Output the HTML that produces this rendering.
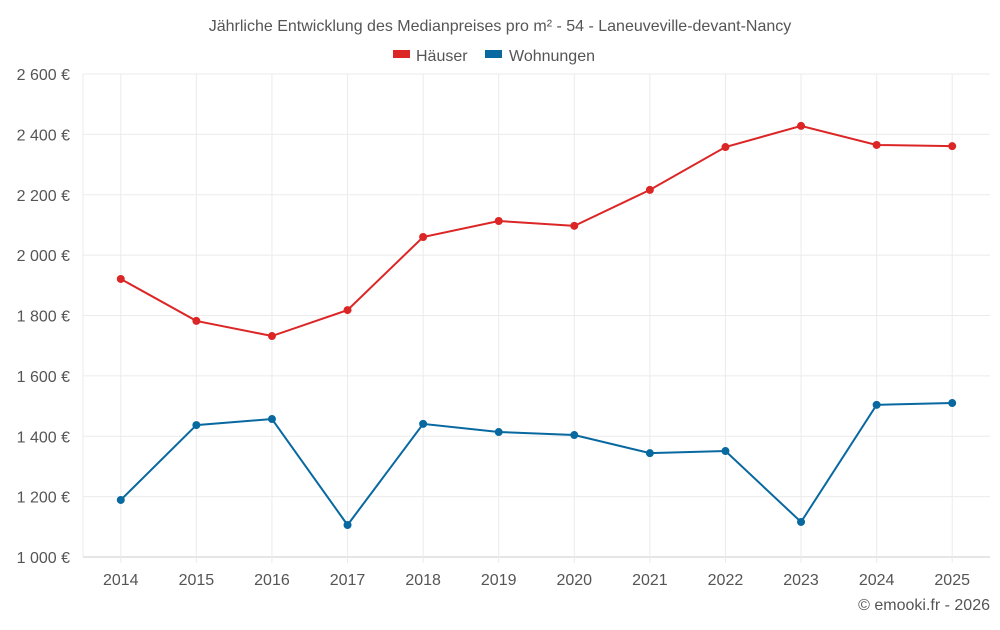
<!DOCTYPE html>
<html><head><meta charset="utf-8"><style>
body{margin:0;background:#fff;font-family:"Liberation Sans",Roboto,sans-serif}
svg text{font-family:"Liberation Sans",sans-serif;fill:#555}
</style></head><body>
<svg id="c" width="1000" height="625">
<text x="500" y="31" text-anchor="middle" font-size="16">Jährliche Entwicklung des Medianpreises pro m² - 54 - Laneuveville-devant-Nancy</text>
<g>
<g><rect x="393" y="50" width="17" height="8" fill="#dc2626"/><text x="416" y="61" font-size="16">Häuser</text></g>
<g><rect x="485" y="50" width="17" height="8" fill="#0868a0"/><text x="509" y="61" font-size="16">Wohnungen</text></g>
</g>
<g id="grid"></g>
<g id="axes"></g>
<g id="series"></g>
<text x="990" y="610" text-anchor="end" font-size="16">© emooki.fr - 2026</text>
</svg>
<script>
const years=["2014","2015","2016","2017","2018","2019","2020","2021","2022","2023","2024","2025"];
const haeuser=[1921,1782,1732,1818,2060,2113,2097,2216,2358,2428,2365,2361];
const wohnungen=[1189,1437,1457,1106,1441,1414,1404,1344,1351,1116,1504,1510];
const yTicks=[1000,1200,1400,1600,1800,2000,2200,2400,2600];
const yLabels=["1 000 €","1 200 €","1 400 €","1 600 €","1 800 €","2 000 €","2 200 €","2 400 €","2 600 €"];
const L=83,R=990,T=74,B=557,ymin=1000,ymax=2600;
const bw=(R-L)/years.length;
const x=i=>L+bw*(i+0.5);
const y=v=>B-(v-ymin)/(ymax-ymin)*(B-T);
const NS="http://www.w3.org/2000/svg";
function mk(tag,parent,attrs){const e=document.createElementNS(NS,tag);for(const k in attrs)e.setAttribute(k,attrs[k]);document.getElementById(parent).appendChild(e);return e;}
yTicks.forEach((t,i)=>{
 const g=mk("line","grid",{x1:L,x2:R,y1:y(t),y2:y(t),stroke:i==0?"#ccc":"#ebebeb"});
 
 
 const l=mk("text","axes",{x:70,y:y(t)+6,"text-anchor":"end","font-size":"16"});
 l.textContent=yLabels[i];
 
 
});
const lv=mk("line","grid",{x1:L,x2:L,y1:T,y2:B,stroke:"#ebebeb"});


years.forEach((yr,i)=>{
 const g=mk("line","grid",{x1:x(i),x2:x(i),y1:T,y2:B+6,stroke:"#ebebeb"});
 
 
 const l=mk("text","axes",{x:x(i),y:585,"text-anchor":"middle","font-size":"16"});
 l.textContent=yr;
 
 
});
function series(vals,color,name){
 const p=mk("polyline","series",{points:vals.map((v,i)=>x(i)+","+y(v)).join(" "),fill:"none",stroke:color,"stroke-width":2});
 
 
 vals.forEach((v,i)=>{
  const c=mk("circle","series",{cx:x(i),cy:y(v),r:4,fill:color});
  
  
 });
}
series(haeuser,"#dc2626","haeuser");
series(wohnungen,"#0868a0","wohnungen");
</script>
</body></html>
